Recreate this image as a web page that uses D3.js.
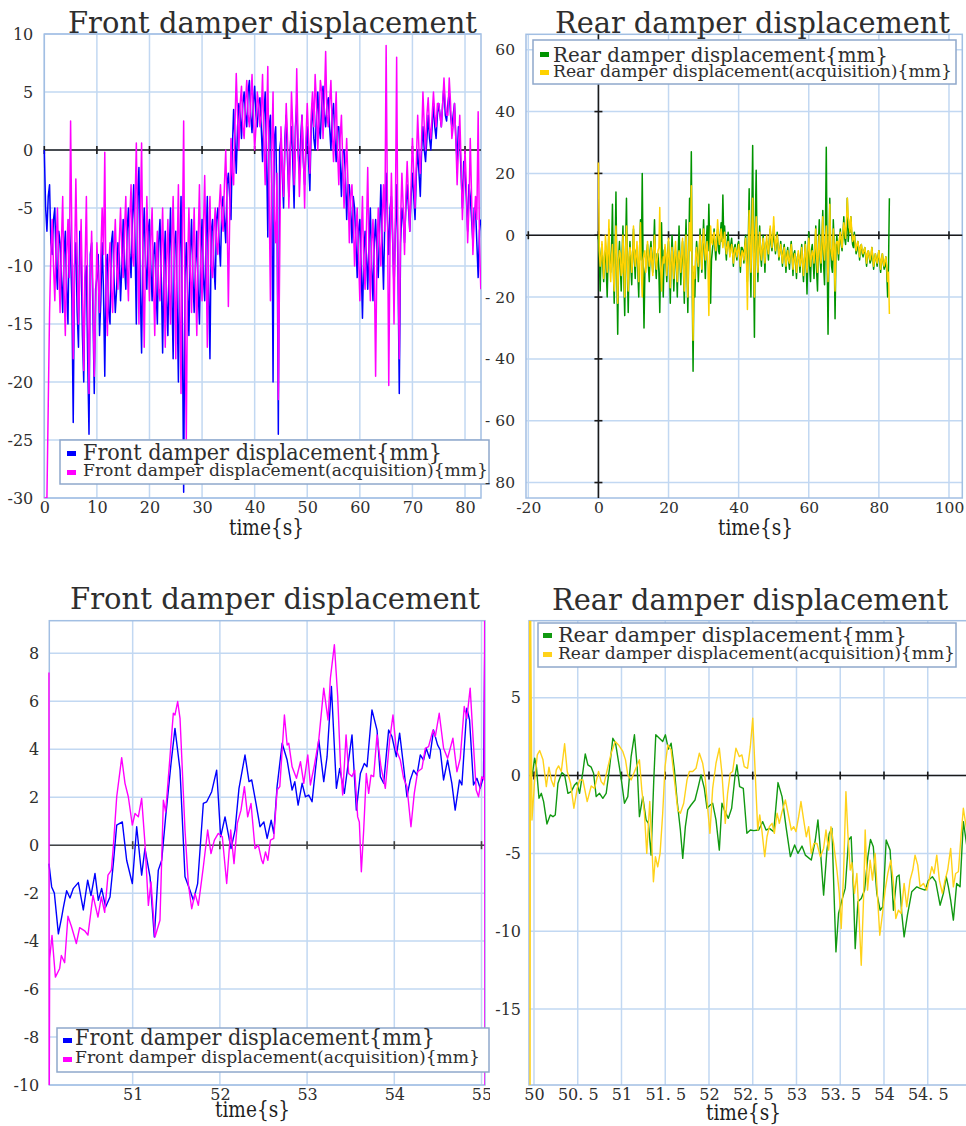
<!DOCTYPE html>
<html><head><meta charset="utf-8">
<script src="https://cdn.jsdelivr.net/npm/d3@7/dist/d3.min.js"></script>
<style>body{margin:0;background:#fff}svg{display:block}</style>
</head><body>
<svg id="c" width="966" height="1126"></svg>
<script>
// ---------------- DATA ----------------
// Full run: main samples every 0.5 s from t = 0 s, mid samples every 0.5 s from t = 0.25 s
const fullStart = 0, midStart = 0.25, fullStep = 0.5;
const frontDisp = [
0,-7,-3,-9,-5,-12,-8,-14,-7,-15,
-9,-23.5,-8,-17,-9,-20,-10,-24.5,-8,-21,
-11,-16,-8,-19.5,-9,-15,-7,-14,-8,-13,
-6,-12,-5,-11,-3,-15,-1.5,-17.5,-5,-12,
-6,-13,-8,-15,-6,-17.5,-7,-16,-5,-18,
-7,-20,-4,-29.5,-8,-16,-6,-14,-7,-15,
-6,-13,-4,-18,-6,-12,-5,-10,-4,-8,
-2,-6,3.5,-2,4,1,5,2,6,1.5,
5.5,2,4.5,-1,5,-7.5,3,-20,2,-24.5,
1,-5,3,-4,2,-5,4,-2,3,-3,
2,-3.5,4,0,5,1,5.5,2,4.5,0,
4,-1,2,-4,0,-6,-3,-8,-5,-11,
-6,-14.5,-7,-12,-5,-13,-6,-11,-3,-12,
-2,-9,-4,-12,-3,-21,-5,-8,-3,-7,
-2,-6,0,-4,2,-1,3,0,4,1,
4,2,5.5,2.5,5,2,4,-1,1,-5,
-2,-7,-4,-8,-5,-11,-6];
const frontDispMid = [
-5,-4,-8,-6,-10,-7,-11,-9,-12,-6,
-13,-10,-14,-7,-16,-11,-18,-9,-14,-12,
-9,-13,-12,-10,-14,-8,-11,-12,-9,-10,
-10,-7,-9,-6,-8,-4,-12,-8,-10,-7,
-10,-9,-12,-8,-11,-10,-13,-9,-12,-8,
-13,-9,-15,-11,-12,-9,-11,-10,-12,-9,
-11,-8,-12,-7,-10,-6,-8,-5,-6,-3,
-4,0,1,2,3,4,3,5,3,4,
3,4,2,3,0,2,-3,1,-5,0,
-2,1,-1,0,-1,2,0,1,-1,0,
-1,2,1,3,2,4,3,4,2,3,
1,2,-1,0,-2,-3,-5,-4,-8,-7,
-10,-9,-9,-8,-10,-8,-9,-7,-8,-6,
-6,-5,-8,-7,-10,-8,-6,-5,-5,-4,
-4,-2,-2,0,0,1,1,2,2,3,
3,4,3,4,3,3,1,2,-2,-1,
-4,-3,-6,-5,-8,-7];
const frontAcq = [
-30,-30,-14,-6,-13,-5,-14,-4,-16,-6,
2.5,-18,-2.5,-15,-6,-19,-4,-21,-7,-19.5,
-8,-14,-5,-0.2,-16,-8,-14,-6,-12,-5,
-11,-4,-13,-3,-10,0.6,-15,0.6,-17,-4,
-13,-5,-16,-7,-13,-5,-17,-6,-15,-4,
-18,-3,-21,2.5,-25,-5,-14,-5,-16,-3,
-13,-2.2,-17,-4,-11,-5,-9,-3,-7,0,
-13.5,1,-3,6.6,0,5.5,1,6,2,6.5,
0,5,2,6.5,-3,7.2,-13,5,-8,-21.5,
2,-4,4,-5,5,-3,7,-4,3,-5,
4,-2,5,6.5,0,6,1,8.5,2,6,
-1,5,-3,3,-5,1,-8,-3,-10,-5,
-13,-4,-12,-1.5,-13,-6,-19.5,-5,-10,-3,
9,-20.3,-2,-15,8,-18,-2,-9,-1,-7,
1,-5,3,-2,5,0,4.5,1,5,2,
4,2,6.2,3,6.2,1,4,-3,3,-6,
0,-8,1,-9,-4,3.3,-12];
const frontAcqMid = [
-30,-22,-9,-10,-8,-10,-8,-12,-9,-11,
-8,-10,-9,-11,-12,-10,-13,-11,-12,-14,
-11,-9,-9,-13,-10,-12,-9,-10,-8,-9,
-7,-10,-6,-9,-5,-8,-6,-10,-9,-9,
-8,-11,-10,-12,-9,-11,-10,-12,-8,-10,
-9,-12,-8,-14,-10,-10,-9,-11,-8,-10,
-7,-9,-8,-10,-7,-8,-5,-6,-3,-5,
-6,-2,2,3,4,2,4,3,4,3,
2,4,3,1,2,-4,0,-6,-2,-10,
-1,0,1,-1,2,0,1,-1,0,1,
1,3,2,4,3,5,4,3,4,2,
2,0,1,-1,-2,-3,-4,-6,-7,-9,
-8,-10,-7,-9,-8,-10,-9,-8,-6,-7,
-5,-8,-7,-6,-9,-6,-5,-4,-4,-3,
-2,-1,0,1,2,3,2,3,3,4,
3,4,4,3,4,2,1,0,-1,-3,
-3,-5,-4,-6,-6,-8];
const rearDisp = [
0,-18,-3,-15,-5,-20,2,-12,10,-22,
14,-32,-2,-18,3,-26,12,-25,-2,-16,
2,-14,-4,-20,5,20,-30,-10,-3,-15,
-2,-12,5,-14,-6,-25,4,-20,-4,-15,
-2,-22,0,-18,-5,-20,3,-16,-2,-22,
5,-25,12,27,-44,-20,-2,-15,2,-12,
5,-14,3,10,-22,-5,2,-8,2,-6,
4,13,3,-8,1,-6,-1,-10,-3,-8,
-2,-12,-4,-9,0,-15,15,-20,29,-33,
21,-15,3,-10,0,-12,-2,-8,2,-5,
3,-6,1,-8,-2,-10,-3,-12,-4,-11,
-2,-13,-5,-14,-6,-12,-3,-15,-2,-19,
1,-15,-3,-14,3,-18,5,-12,8,-16,
28.5,-32,12,-10,5,-27,0,-8,2,-5,
6,-3,12,2,6,-3,1,-6,-2,-8,
-3,-7,-4,-10,-5,-9,-4,-11,-6,-10,
-5,-12,-6,-11,-7,-20,12];
const rearDispMid = [
-8,-6,-10,-7,-12,-8,-9,-5,-10,-6,
-12,-8,-10,-6,-14,-4,-12,-8,-10,-6,
-8,-5,-12,-4,-8,-10,-12,-6,-10,-5,
-8,-4,-9,-6,-12,-8,-10,-5,-9,-6,
-10,-8,-7,-10,-9,-6,-8,-7,-11,-5,
-10,-8,2,-15,-12,-8,-6,-7,-5,-4,
-6,-3,-5,-4,-8,-2,-4,-1,-5,0,
-2,-1,-4,-2,-3,-3,-5,-4,-6,-3,
-6,-4,-5,-3,-8,-2,-5,5,-6,4,
-4,-3,-6,-4,-5,-3,-4,-1,-3,-2,
-2,-3,-4,-5,-6,-5,-7,-6,-8,-5,
-7,-6,-9,-7,-8,-6,-10,-8,-9,-7,
-10,-5,-8,-6,-12,-3,-8,-2,-10,0,
-8,-6,-4,-12,-3,-6,-4,-2,-3,0,
-1,2,-2,1,0,-4,-3,-5,-4,-4,
-6,-5,-7,-6,-7,-8,-7,-8,-8,-7,
-9,-8,-9,-10,-12,-10];
const rearAcq = [
23.5,-10,-2,-14,0,-12,5,-15,-3,-18,
3,-22,-5,-13,0,-20,3,-18,-4,-12,
3,-10,-2,-15,4,-20,-6,-12,-2,-10,
-4,-13,0,-11,-5,9,-18,-7,-3,-13,
-1,-17,-4,-14,-2,-15,-5,-12,-1,-18,
0,-20,4,16,-34,-14,-4,-10,0,-11,
2,-8,-2,-26,3,-3,1,-5,5,-3,
2,-4,1,-6,-2,-7,-3,-9,-4,-7,
-3,-10,-5,-8,-1,-24,8,-12,12,-20,
6,-12,1,-8,-1,-9,0,-6,3,-4,
6,-5,0,-7,-3,-9,-4,-10,-5,-9,
-3,-11,-6,-12,-5,-10,-4,-13,-3,-12,
-1,-10,-5,-9,2,-12,0,-9,6,-8,
3,-15,10,-6,2,-18,-2,-6,1,-4,
4,-1,12,4,6,-2,0,-5,-2,-7,
-3,-6,-4,-9,-5,-8,-4,-10,-6,-9,
-5,-11,-6,-10,-7,-15,-25.5];
const rearAcqMid = [
-5,-8,-6,-9,-4,-6,-10,-7,-12,-5,
-10,-8,-6,-12,-9,-5,-10,-7,-6,-8,
-5,-7,-9,-4,-12,-8,-5,-9,-6,-8,
-9,-5,-6,-8,-4,-10,-11,-9,-6,-7,
-9,-8,-10,-6,-9,-7,-8,-5,-10,-7,
-9,-6,-5,-12,-10,-6,-8,-4,-6,-3,
-3,-5,-10,-8,-2,0,-3,-1,0,-1,
-1,-2,-3,-4,-4,-5,-5,-6,-5,-5,
-6,-7,-6,-4,-9,-6,-3,0,-5,-2,
-3,-4,-5,-4,-5,-3,-4,-2,-1,0,
0,-2,-3,-5,-6,-6,-7,-7,-8,-6,
-7,-8,-8,-9,-7,-8,-9,-8,-7,-6,
-5,-7,-6,-4,-7,-5,-6,-3,-4,-2,
-5,-3,-4,-8,-4,-3,-2,-1,-2,1,
2,4,6,1,2,-1,-3,-3,-4,-4,
-5,-5,-6,-6,-7,-6,-7,-8,-8,-7,
-8,-8,-9,-8,-10,-12];

// Zoomed window 50-55 s
const zFrontDispT = [50.040,50.071,50.102,50.148,50.186,50.205,50.243,50.281,50.320,50.377,50.434,50.484,50.522,50.568,50.606,50.644,50.690,50.740,50.778,50.817,50.881,50.931,50.996,51.046,51.103,51.141,51.199,51.248,51.294,51.333,51.378,51.440,51.485,51.543,51.600,51.657,51.696,51.745,51.810,51.849,51.906,51.963,52.009,52.059,52.128,52.174,52.219,52.288,52.334,52.365,52.414,52.460,52.504,52.542,52.588,52.618,52.656,52.714,52.771,52.828,52.859,52.897,52.943,52.981,53.019,53.057,53.095,53.134,53.191,53.229,53.279,53.336,53.374,53.427,53.466,53.515,53.565,53.611,53.656,53.687,53.744,53.802,53.840,53.878,53.935,53.973,54.023,54.061,54.107,54.145,54.183,54.221,54.260,54.298,54.336,54.366,54.405,54.450,54.496,54.527,54.565,54.611,54.660,54.698,54.748,54.775,54.832,54.863,54.908,54.947,54.985,55.023,55.040];
const zFrontDisp = [-0.77,-1.74,-2.0,-3.7,-3.0,-2.6,-1.9,-2.2,-1.8,-1.56,-2.7,-1.46,-2.1,-1.18,-2.3,-1.8,-2.58,-2.16,-0.77,0.84,0.97,-0.63,-1.6,0.77,-1.25,-0.14,-1.32,-3.83,-1.04,-0.63,1.18,3.41,4.87,3.13,-1.32,-1.88,-2.3,-1.6,1.74,1.81,2.23,3.13,0.35,1.18,-0.14,0.63,2.37,3.76,2.65,2.72,1.74,0.77,0.97,0.28,1.04,0.49,2.44,4.25,3.55,2.30,2.65,1.67,2.58,2.02,2.09,1.81,3.13,4.39,2.65,3.69,6.62,2.37,3.2,2.16,3.27,4.6,1.46,2.99,3.41,3.27,5.64,4.8,2.86,2.58,4.8,4.53,3.69,4.67,3.27,2.02,2.72,3.13,2.92,3.76,3.55,4.04,3.62,4.8,4.18,3.97,2.72,3.55,2.58,1.46,2.72,2.51,5.71,5.22,2.51,2.79,2.37,2.86,9.3];
const zFrontAcqT = [50.040,50.043,50.048,50.075,50.114,50.163,50.182,50.220,50.258,50.297,50.354,50.392,50.450,50.487,50.545,50.602,50.641,50.679,50.717,50.756,50.778,50.817,50.874,50.912,50.950,50.996,51.027,51.065,51.103,51.141,51.180,51.210,51.256,51.313,51.352,51.378,51.428,51.466,51.485,51.516,51.543,51.600,51.638,51.677,51.715,51.753,51.810,51.860,51.898,51.937,51.982,52.028,52.078,52.124,52.162,52.200,52.242,52.281,52.319,52.357,52.403,52.441,52.479,52.496,52.523,52.550,52.580,52.618,52.656,52.687,52.740,52.771,52.790,52.828,52.878,52.924,52.962,53.008,53.038,53.084,53.134,53.191,53.240,53.267,53.313,53.351,53.382,53.408,53.447,53.477,53.515,53.546,53.580,53.599,53.622,53.649,53.679,53.706,53.733,53.763,53.802,53.847,53.897,53.947,53.985,54.023,54.069,54.107,54.145,54.191,54.229,54.267,54.317,54.355,54.393,54.443,54.470,54.515,54.565,54.611,54.672,54.718,54.756,54.802,54.832,54.870,54.908,54.939,54.966,55.004,55.030,55.036,55.040];
const zFrontAcq = [7.2,-11,-4.72,-3.76,-5.5,-5.14,-4.6,-4.9,-2.96,-3.38,-4.1,-3.44,-3.57,-3.75,-2.09,-3.0,-2.16,-2.8,-1.25,-1.04,-0.07,2.02,3.65,2.58,2.02,0.84,1.32,1.18,1.95,0.07,-2.51,-1.53,-3.83,-3.13,1.88,1.39,3.69,5.5,5.43,5.99,5.29,0.63,-1.6,-2.65,-2.02,-2.51,-0.91,0.63,-0.35,0.21,0.49,0.35,-1.6,0.63,-0.77,0.91,1.46,2.44,1.18,1.74,-0.14,0,-0.63,-0.77,-0.28,-0.63,0.21,0.28,2.3,2.44,5.43,4.18,4.25,3.27,2.79,3.48,2.58,3.76,2.51,3.34,4.39,6.55,5.22,6.96,8.36,6.2,3.41,2.09,4.6,2.99,2.86,3.13,1.18,0.97,-1.11,0.63,2.99,2.16,2.92,2.86,4.6,3.27,2.37,4.39,5.43,3.97,3.55,2.79,2.44,0.77,2.16,3.06,3.2,4.04,4.11,4.8,4.53,5.5,4.04,3.62,4.46,3.06,3.62,5.78,5.29,6.55,4.18,2.3,2.02,2.86,2.72,10,-11];

const zRearDispT = [49.977,50.008,50.027,50.057,50.084,50.110,50.148,50.186,50.217,50.243,50.274,50.319,50.350,50.388,50.426,50.464,50.490,50.521,50.559,50.586,50.616,50.654,50.681,50.711,50.749,50.787,50.825,50.863,50.901,50.932,50.966,50.996,51.034,51.072,51.110,51.148,51.179,51.205,51.243,51.281,51.308,51.338,51.369,51.392,51.433,51.471,51.502,51.536,51.567,51.605,51.635,51.673,51.700,51.730,51.757,51.795,51.840,51.878,51.909,51.947,51.977,52.015,52.042,52.080,52.118,52.148,52.183,52.221,52.259,52.297,52.319,52.350,52.392,52.433,52.473,52.511,52.568,52.614,52.652,52.690,52.740,52.789,52.835,52.880,52.930,52.979,53.017,53.063,53.101,53.169,53.215,53.245,53.276,53.310,53.348,53.375,53.405,53.424,53.451,53.481,53.519,53.557,53.595,53.625,53.652,53.671,53.702,53.740,53.778,53.816,53.846,53.878,53.918,53.956,53.987,54.025,54.070,54.108,54.146,54.173,54.203,54.230,54.268,54.317,54.375,54.413,54.470,54.508,54.553,54.591,54.641,54.679,54.711,54.736,54.762,54.793,54.831,54.869,54.907,54.937,54.970];
const zRearDisp = [-0.06,1.12,0.58,-1.46,-1.14,-1.67,-3.11,-2.53,-2.64,-2.53,-0.49,0.19,0.04,-1.14,-1.03,-0.6,-0.45,-1.14,0.26,1.39,0.69,0.54,0.15,-1.35,-1.14,-1.46,-1.14,0.47,2.4,2.08,0.9,-0.17,-1.78,-1.35,1.22,2.62,0.58,-2.64,-1.35,-2.85,-3.07,-5.11,-0.28,2.62,2.4,2.19,2.62,1.7,2.08,0.36,-1.57,-3.5,-5.32,-3.28,-2.21,-1.89,-1.57,-0.71,0.04,-0.82,-2.1,-1.89,-1.78,-2.85,-4.79,-1.78,-2.32,-2.75,-2.1,-0.06,0.69,-0.71,-0.82,-3.71,-3.5,-3.54,-3.5,-2.96,-3.5,-3.39,-3.6,-0.45,-1.35,-3.28,-5.21,-4.46,-5.0,-4.53,-5.11,-5.43,-4.14,-2.85,-5.0,-7.68,-4.79,-3.71,-3.39,-6.72,-11.33,-8.86,-8.0,-7.25,-4.14,-3.93,-7.57,-11.12,-8.11,-7.9,-7.36,-5.21,-4.1,-4.57,-7.57,-8.65,-8.43,-4.14,-4.79,-8.65,-6.5,-6.39,-8.86,-10.36,-8.97,-7.47,-7.15,-7.25,-7.36,-6.72,-6.5,-6.82,-8.33,-7.57,-6.5,-7.15,-8.0,-9.29,-6.93,-7.15,-2.96,-4.14,-5.5];
const zRearAcqT = [49.950,49.955,49.960,49.977,50.008,50.038,50.065,50.103,50.141,50.171,50.198,50.228,50.255,50.281,50.312,50.350,50.380,50.418,50.456,50.494,50.521,50.559,50.608,50.654,50.692,50.738,50.768,50.798,50.837,50.882,50.928,50.966,51.015,51.046,51.072,51.110,51.156,51.205,51.232,51.262,51.289,51.323,51.346,51.365,51.388,51.414,51.441,51.471,51.498,51.529,51.567,51.605,51.643,51.673,51.711,51.749,51.776,51.814,51.852,51.890,51.928,51.958,51.985,52.011,52.042,52.080,52.118,52.148,52.186,52.213,52.243,52.270,52.308,52.346,52.376,52.403,52.441,52.473,52.500,52.530,52.557,52.580,52.606,52.637,52.663,52.690,52.721,52.747,52.778,52.804,52.835,52.873,52.903,52.941,52.968,52.994,53.025,53.051,53.082,53.112,53.139,53.169,53.200,53.234,53.272,53.310,53.337,53.367,53.394,53.424,53.462,53.489,53.511,53.538,53.565,53.587,53.614,53.633,53.663,53.690,53.717,53.740,53.766,53.785,53.812,53.842,53.869,53.899,53.926,53.952,53.983,54.013,54.044,54.078,54.108,54.135,54.165,54.196,54.230,54.260,54.298,54.329,54.355,54.386,54.413,54.451,54.489,54.515,54.546,54.573,54.603,54.633,54.667,54.698,54.728,54.762,54.793,54.819,54.850,54.880,54.907,54.933,54.970];
const zRearAcq = [12,-22,12,-2.85,-0.28,1.33,1.61,1.01,-0.71,0.54,-0.28,-0.71,0.36,0.62,0.26,2.04,0.26,-0.49,-2.1,-0.82,-0.28,-0.28,-1.67,-0.67,-0.82,0.26,-0.39,-0.6,0.36,1.44,2.19,1.97,1.55,1.01,0.04,-0.28,0.36,1.01,-0.92,-2.42,-5.0,-1.67,-4.36,-6.82,-5.21,-5.86,-5.0,-2.42,0.58,1.97,1.65,-0.28,-2.21,-2.42,-1.78,-0.28,0.26,0.26,0.47,1.44,0.79,-0.28,-2.1,-3.71,-0.82,0.79,1.76,0.15,-3.07,-1.14,0.15,0.26,1.76,1.22,1.33,0.58,0.47,1.87,3.69,-0.06,-3.5,-2.53,-3.6,-5.21,-3.93,-3.28,-3.07,-3.71,-2.42,-3.07,-2.32,-1.57,-2.42,-3.5,-3.28,-3.6,-2.64,-1.67,-2.85,-3.93,-3.28,-5.0,-4.36,-4.36,-5.21,-4.68,-3.5,-4.79,-3.28,-4.36,-6.07,-7.57,-9.83,-6.29,-1.03,-3.71,-6.07,-5.6,-7.57,-6.29,-9.29,-12.19,-8.0,-3.5,-7.36,-5.43,-6.72,-5.0,-7.79,-10.26,-8.86,-7.36,-6.29,-5.43,-6.93,-9.18,-8.65,-8.86,-6.93,-8.43,-6.72,-6.07,-5.11,-5.75,-7.15,-6.93,-7.36,-6.72,-5.86,-6.29,-5.11,-6.72,-7.57,-6.72,-6.07,-4.68,-7.15,-6.29,-6.18,-3.93,-2.1,-3.07,-4.5];

// Tick values
const ticksX1 = [0,10,20,30,40,50,60,70,80];
const ticksY1 = [-30,-25,-20,-15,-10,-5,0,5,10];
const ticksX2 = [-20,0,20,40,60,80,100];
const ticksY2 = [-80,-60,-40,-20,0,20,40,60];
const ticksX3 = [51,52,53,54,55];
const ticksY3 = [-10,-8,-6,-4,-2,0,2,4,6,8];
const ticksX4 = [50,50.5,51,51.5,52,52.5,53,53.5,54,54.5];
const ticksY4 = [-15,-10,-5,0,5];

const titleFront = "Front damper displacement";
const titleRear = "Rear damper displacement";
const legFront = ["Front damper displacement{mm}", "Front damper displacement(acquisition){mm}"];
const legRear = ["Rear damper displacement{mm}", "Rear damper displacement(acquisition){mm}"];
const xLabel = "time{s}";

// ---------------- DRAW ----------------
const svg = d3.select('#c');
const defs = svg.append('defs');
const GRID = '#c2d8f2', BORDER = '#a2bfe3', TEXT = '#2e2e2e', LEGB = '#8fa8cb';
const FONT = "'DejaVu Serif', 'Liberation Serif', serif";
const uniform = (vals, t0, dt) => vals.map((v, i) => [t0 + i * dt, v]);
const interleave = (a, b) => a.concat(b).sort((p, q) => p[0] - q[0]);
const paired = (ts, vals) => ts.map((t, i) => [t, vals[i]]);
let uid = 0;

function drawPanel(c) {
  const id = uid++;
  const x = d3.scaleLinear().domain(c.xDomain).range([c.left, c.right]);
  const y = d3.scaleLinear().domain(c.yDomain).range([c.bottom, c.top]);
  defs.append('clipPath').attr('id', 'outer' + id).append('rect')
    .attr('x', c.region[0]).attr('y', c.region[1]).attr('width', c.region[2]).attr('height', c.region[3]);
  defs.append('clipPath').attr('id', 'plot' + id).append('rect')
    .attr('x', c.left - 3).attr('y', c.top).attr('width', c.right - c.left + 3).attr('height', c.bottom - c.top);
  const g = svg.append('g').attr('clip-path', `url(#outer${id})`);

  // grid
  g.append('g').selectAll('line').data(c.xTicks).join('line')
    .attr('x1', d => x(d)).attr('x2', d => x(d)).attr('y1', c.top).attr('y2', c.bottom)
    .attr('stroke', GRID).attr('stroke-width', 1.5);
  g.append('g').selectAll('line').data(c.yTicks).join('line')
    .attr('y1', d => y(d)).attr('y2', d => y(d)).attr('x1', c.left).attr('x2', c.right)
    .attr('stroke', GRID).attr('stroke-width', 1.5);
  // border
  g.append('rect').attr('x', c.left).attr('y', c.top).attr('width', c.right - c.left).attr('height', c.bottom - c.top)
    .attr('fill', 'none').attr('stroke', BORDER).attr('stroke-width', 1.5);
  // zero line with ticks
  const y0 = y(0);
  g.append('line').attr('x1', c.left).attr('x2', c.right).attr('y1', y0).attr('y2', y0)
    .attr('stroke', c.zeroColor).attr('stroke-width', 1.6);
  g.append('g').selectAll('line').data(c.xTicks).join('line')
    .attr('x1', d => x(d)).attr('x2', d => x(d)).attr('y1', y0 - 4).attr('y2', y0 + 4)
    .attr('stroke', c.zeroColor).attr('stroke-width', 1.6);
  if (c.vZero) {
    const x0 = x(0);
    g.append('line').attr('x1', x0).attr('x2', x0).attr('y1', c.top).attr('y2', c.bottom)
      .attr('stroke', c.zeroColor).attr('stroke-width', 1.6);
    g.append('g').selectAll('line').data(c.yTicks).join('line')
      .attr('y1', d => y(d)).attr('y2', d => y(d)).attr('x1', x0 - 4).attr('x2', x0 + 4)
      .attr('stroke', c.zeroColor).attr('stroke-width', 1.6);
  }
  // series
  const line = d3.line().x(d => x(d[0])).y(d => y(d[1]));
  const sg = g.append('g').attr('clip-path', `url(#plot${id})`);
  c.series.forEach(s => {
    sg.append('path').attr('d', line(s.data)).attr('fill', 'none')
      .attr('stroke', s.color).attr('stroke-width', c.lw).attr('stroke-linejoin', 'round');
  });
  // axes
  const ax = g.append('g').attr('transform', `translate(0,${c.bottom})`)
    .call(d3.axisBottom(x).tickValues(c.xTicks).tickSize(0).tickPadding(4).tickFormat(c.xFmt));
  const ay = g.append('g').attr('transform', `translate(${c.left},0)`)
    .call(d3.axisLeft(y).tickValues(c.yTicks).tickSize(0).tickPadding(c.yPad).tickFormat(c.yFmt));
  [ax, ay].forEach(a => {
    a.select('.domain').remove();
    a.attr('font-family', FONT).attr('font-size', c.tickSize || 16);
    a.selectAll('text').attr('fill', TEXT);
  });
  // legend
  const L = c.legend;
  g.append('rect').attr('x', L.x).attr('y', L.y).attr('width', L.w).attr('height', L.h)
    .attr('fill', '#fff').attr('stroke', LEGB).attr('stroke-width', 1.5);
  L.items.forEach((it, i) => {
    g.append('rect').attr('x', L.sx).attr('y', it.sy).attr('width', 9).attr('height', 5).attr('fill', c.series[i].color);
    g.append('text').attr('x', L.tx).attr('y', it.base).attr('font-family', FONT).attr('font-size', it.size)
      .attr('fill', TEXT).attr('textLength', it.w).attr('lengthAdjust', 'spacingAndGlyphs').text(it.text);
  });
  // title & x label
  g.append('text').attr('x', c.title.x).attr('y', c.title.base).attr('font-family', FONT).attr('font-size', 30)
    .attr('fill', TEXT).attr('textLength', c.title.w).attr('lengthAdjust', 'spacingAndGlyphs').text(c.title.text);
  g.append('text').attr('x', c.xl.x).attr('y', c.xl.base).attr('font-family', FONT).attr('font-size', 22)
    .attr('fill', '#1e1e1e').attr('textLength', 75).attr('lengthAdjust', 'spacingAndGlyphs').text(xLabel);
}

const intFmt = d => String(d);
const halfFmt = d => Number.isInteger(d) ? String(d) : Math.floor(d) + '. 5';
const spacedNeg = d => d < 0 ? '- ' + (-d) : String(d);

drawPanel({
  region: [0, 0, 490, 560], left: 44.3, right: 481, top: 34, bottom: 498,
  xDomain: [0, 83.04], yDomain: [-30, 10], xTicks: ticksX1, yTicks: ticksY1,
  xFmt: intFmt, yFmt: intFmt, yPad: 11, zeroColor: '#1a1a1a', lw: 1.5,
  series: [{data: interleave(uniform(frontDisp, fullStart, fullStep), uniform(frontDispMid, midStart, fullStep)), color: '#0000ff'},
           {data: interleave(uniform(frontAcq, fullStart, fullStep), uniform(frontAcqMid, midStart, fullStep)), color: '#ff00ff'}],
  legend: {x: 60, y: 440, w: 429, h: 44, sx: 67, tx: 83,
    items: [{text: legFront[0], sy: 451, base: 460, size: 22, w: 359},
            {text: legFront[1], sy: 470, base: 476, size: 17, w: 405}]},
  title: {text: titleFront, x: 68, base: 33, w: 409},
  xl: {x: 229, base: 535}
});
drawPanel({
  region: [482, 0, 484, 560], left: 526, right: 962.3, top: 34.3, bottom: 498,
  xDomain: [-20.66, 103.8], yDomain: [-85, 65], xTicks: ticksX2, yTicks: ticksY2,
  xFmt: intFmt, yFmt: spacedNeg, yPad: 11, tickSize: 15.5, zeroColor: '#1a1a1a', lw: 1.5, vZero: true,
  series: [{data: interleave(uniform(rearDisp, fullStart, fullStep), uniform(rearDispMid, midStart, fullStep)), color: '#009400'},
           {data: interleave(uniform(rearAcq, fullStart, fullStep), uniform(rearAcqMid, midStart, fullStep)), color: '#ffd200'}],
  legend: {x: 533, y: 40, w: 423, h: 44, sx: 540, tx: 553,
    items: [{text: legRear[0], sy: 52, base: 62, size: 21, w: 335},
            {text: legRear[1], sy: 70, base: 77, size: 17, w: 399}]},
  title: {text: titleRear, x: 555, base: 33, w: 395},
  xl: {x: 718, base: 535}
});
drawPanel({
  region: [0, 570, 490, 556], left: 49.3, right: 485, top: 620.7, bottom: 1085,
  xDomain: [50.044, 55.04], yDomain: [-10, 9.36], xTicks: ticksX3, yTicks: ticksY3,
  xFmt: intFmt, yFmt: intFmt, yPad: 10, zeroColor: '#444', lw: 1.4,
  series: [{data: paired(zFrontDispT, zFrontDisp), color: '#0000ff'},
           {data: paired(zFrontAcqT, zFrontAcq), color: '#ff00ff'}],
  legend: {x: 57, y: 1028, w: 432, h: 44, sx: 63, tx: 75,
    items: [{text: legFront[0], sy: 1038, base: 1045, size: 22, w: 360},
            {text: legFront[1], sy: 1057, base: 1063, size: 17, w: 405}]},
  title: {text: titleFront, x: 70, base: 609, w: 410},
  xl: {x: 215, base: 1117}
});
drawPanel({
  region: [490, 570, 476, 556], left: 529, right: 970, top: 620.7, bottom: 1085,
  xDomain: [49.943, 54.983], yDomain: [-19.88, 9.95], xTicks: ticksX4, yTicks: ticksY4,
  xFmt: halfFmt, yFmt: intFmt, yPad: 8, zeroColor: '#1a1a1a', lw: 1.4,
  series: [{data: paired(zRearDispT, zRearDisp), color: '#119911'},
           {data: paired(zRearAcqT, zRearAcq), color: '#ffd21a'}],
  legend: {x: 538, y: 623, w: 418, h: 44, sx: 543, tx: 558,
    items: [{text: legRear[0], sy: 633, base: 642, size: 21, w: 349},
            {text: legRear[1], sy: 652, base: 659, size: 17, w: 397}]},
  title: {text: titleRear, x: 552, base: 610, w: 396},
  xl: {x: 706, base: 1120}
});
</script>
</body></html>
